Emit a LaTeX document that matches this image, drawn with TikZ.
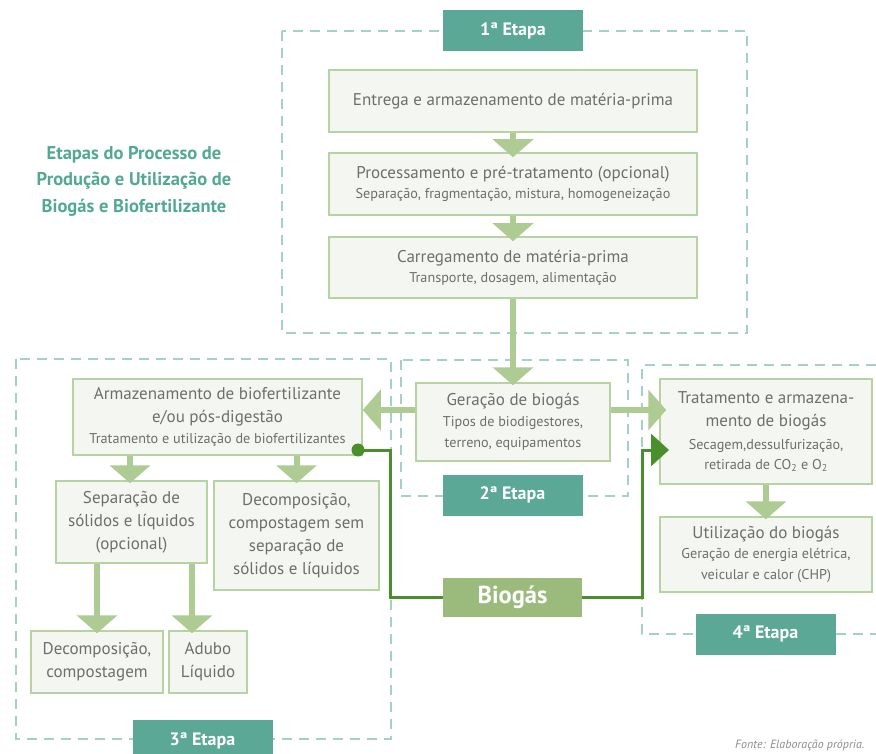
\documentclass[tikz,border=0pt]{standalone}
\usepackage{fontspec}
\setmainfont{PT Sans}
\usetikzlibrary{arrows.meta}
\definecolor{boxfill}{HTML}{F4F7F1}
\definecolor{boxline}{HTML}{B7D3A2}
\definecolor{arrowc}{HTML}{AECB93}
\definecolor{dashc}{HTML}{A3D2C4}
\definecolor{etapac}{HTML}{5BA897}
\definecolor{biogasc}{HTML}{9BBB7C}
\definecolor{darkg}{HTML}{4B8E2C}
\definecolor{txt}{HTML}{6E6E6E}
\definecolor{titlec}{HTML}{52A993}
\newcommand{\subt}{\fontsize{14.2}{21}\selectfont}
\tikzset{
 box/.style={draw=boxline, fill=boxfill, line width=1.5pt, align=center, text=txt, inner sep=0pt, font=\fontsize{17}{23}\selectfont},
 etapa/.style={fill=etapac, text=white, font=\fontsize{18}{20}\selectfont\bfseries, minimum width=140pt, minimum height=41pt, inner sep=0pt},
 stagebox/.style={draw=dashc, line width=2pt, dash pattern=on 10pt off 7pt},
 fat/.style={draw=arrowc, line width=6pt, -{Triangle[width=40pt,length=18pt]}},
 glink/.style={draw=darkg, line width=3pt},
}
\begin{document}
\begin{tikzpicture}[x=1pt,y=-1pt]
\useasboundingbox (0,0) rectangle (876,754);
\clip (0,0) rectangle (876,754);
% stage frames
\draw[stagebox] (282,31) rectangle (747,333);
\draw[stagebox] (401,360) rectangle (628,496);
\draw[stagebox] (16,359) rectangle (391,739);
\draw[stagebox] (876,365) -- (642,365) -- (642,634) -- (876,634);
% title
\node[align=center, text=titlec, font=\fontsize{18.5}{26.5}\selectfont\bfseries] (title) at (134,181)
 {Etapas do Processo de\\Produção e Utilização de\\Biogás e Biofertilizante};
% boxes
\node[box, minimum width=368pt, minimum height=62pt] (e1) at (513,101) {Entrega e armazenamento de matéria-prima};
\node[box, minimum width=368pt, minimum height=62pt] (e2) at (513,184) {Processamento e pré-tratamento (opcional)\\[-3pt]{\subt Separação, fragmentação, mistura, homogeneização}};
\node[box, minimum width=368pt, minimum height=61pt] (e3) at (513,267.5) {Carregamento de matéria-prima\\[-3pt]{\subt Transporte, dosagem, alimentação}};
\node[box, minimum width=194pt, minimum height=78pt] (ger) at (513,422) {Geração de biogás\\[-2pt]{\subt Tipos de biodigestores,}\\[-2pt]{\subt terreno, equipamentos}};
\node[box, minimum width=289pt, minimum height=76pt] (arm) at (217.5,417) {Armazenamento de biofertilizante\\e/ou pós-digestão\\[-2pt]{\subt Tratamento e utilização de biofertilizantes}};
\node[box, minimum width=151pt, minimum height=82pt] (sep) at (131.5,522) {Separação de\\sólidos e líquidos\\(opcional)};
\node[box, minimum width=165pt, minimum height=109pt] (dec) at (296.5,535.5) {Decomposição,\\compostagem sem\\separação de\\sólidos e líquidos};
\node[box, minimum width=132pt, minimum height=62pt] (dcomp) at (97,662) {Decomposição,\\compostagem};
\node[box, minimum width=78pt, minimum height=62pt] (adubo) at (208,662) {Adubo\\Líquido};
\node[box, minimum width=212pt, minimum height=105pt] (trat) at (766,431.5) {Tratamento e armazena-\\mento de biogás\\{\subt Secagem,dessulfurização,}\\[-3pt]{\subt retirada de CO\textsubscript{2} e O\textsubscript{2}}};
\node[box, minimum width=212pt, minimum height=75pt] (util) at (766,554.5) {Utilização do biogás\\[-3pt]{\subt Geração de energia elétrica,}\\[-2pt]{\subt veicular e calor (CHP)}};
% stage labels
\node[etapa] (l1) at (513,30.5) {1ª Etapa};
\node[etapa] (l2) at (512.5,495) {2ª Etapa};
\node[etapa] (l3) at (202.5,740.5) {3ª Etapa};
\node[etapa] (l4) at (765.5,634) {4ª Etapa};
% biogas
\node[fill=biogasc, text=white, font=\fontsize{24.5}{26}\selectfont\bfseries, minimum width=139pt, minimum height=39pt, inner sep=0pt] (bio) at (512.5,597.5) {Biogás};
% arrows
\draw[fat] (e1.south) -- ([yshift=-5]e2.north);
\draw[fat] (e2.south) -- ([yshift=-5]e3.north);
\draw[fat] (e3.south) -- ([yshift=-3]ger.north);
\draw[fat] ([yshift=12]ger.west) -- ([yshift=12]ger.west -| arm.east);
\draw[fat] ([yshift=12]ger.east) -- ([yshift=12,xshift=7]ger.east -| trat.west);
\draw[fat] ([xshift=-1.5]sep.north |- arm.south) -- ([xshift=-1.5,yshift=-3]sep.north);
\draw[fat] (dec.north |- arm.south) -- ([yshift=-3]dec.north);
\draw[fat] (dcomp.north |- sep.south) -- ([yshift=-3]dcomp.north);
\draw[fat] ([xshift=-16]adubo.north |- sep.south) -- ([xshift=-16,yshift=-3]adubo.north);
\draw[fat] (trat.south) -- ([yshift=-3]util.north);
% biogas links
\coordinate (dot) at (358,450);
\coordinate (gl1) at (390,450);
\coordinate (gl2) at (390,597.5);
\coordinate (gr1) at (642,597.5);
\coordinate (gr2) at (642,450);
\coordinate (gtip) at (669,450);
\draw[glink] (dot) -- (gl1) -- (gl2) -- (bio.west);
\fill[darkg] (dot) circle [radius=6.5pt];
\draw[glink, -{Triangle[width=32pt,length=18pt]}] (bio.east) -- (gr1) -- (gr2) -- (gtip);
% source
\node[text=gray!90, font=\fontsize{12}{14}\selectfont\itshape, anchor=east] (src) at (868,745) {Fonte: Elaboração própria.};
\end{tikzpicture}
\end{document}
